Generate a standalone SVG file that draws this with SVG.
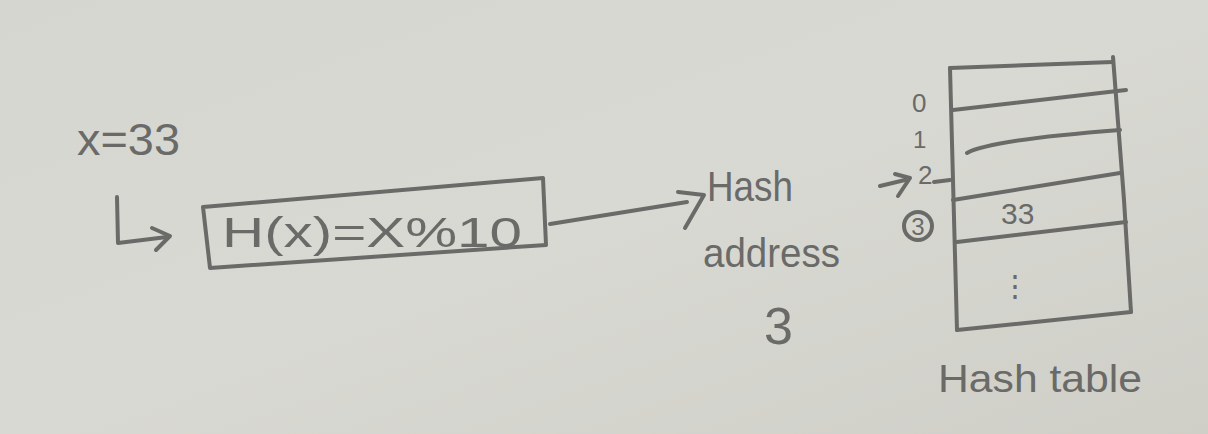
<svg xmlns="http://www.w3.org/2000/svg" width="1208" height="434" viewBox="0 0 1208 434">
<defs>
<linearGradient id="paper" x1="0" y1="0" x2="1" y2="1">
<stop offset="0" stop-color="#d6d6d0"/>
<stop offset="0.5" stop-color="#d9d9d3"/>
<stop offset="1" stop-color="#cfcfc8"/>
</linearGradient>
<style>
.ln{fill:none;stroke:#6a6a68;stroke-width:4;stroke-linecap:round;stroke-linejoin:round}
.tx{font-family:"Liberation Sans",Arial,sans-serif;fill:#6a6a68}
</style>
</defs>
<rect width="1208" height="434" fill="url(#paper)"/>
<g id="input">
<text class="tx" x="77" y="155" font-size="44" textLength="103" lengthAdjust="spacingAndGlyphs">x=33</text>
</g>
<g id="hash-function">
<path class="ln" d="M203,207 L543,178 L546,245 L210,268 Z"/>
<text class="tx" x="222" y="247" font-size="42" textLength="300" lengthAdjust="spacingAndGlyphs">H(x)=X%10</text>
</g>
<g id="hash-address">
<text class="tx" x="707" y="201" font-size="42" textLength="86" lengthAdjust="spacingAndGlyphs">Hash</text>
<text class="tx" x="703" y="267" font-size="40" textLength="137" lengthAdjust="spacingAndGlyphs">address</text>
<text class="tx" x="764" y="344" font-size="52">3</text>
</g>
<g id="hash-table">
<path class="ln" d="M950,68 L1113,62"/>
<path class="ln" d="M1113,57 L1124,200 L1131,312"/>
<path class="ln" d="M950,68 L957,330"/>
<path class="ln" d="M957,330 L1131,312"/>
<path class="ln" d="M953,110 L1126,90"/>
<path class="ln" d="M967,153 Q990,140 1120,130"/>
<path class="ln" d="M953,200 L1120,173"/>
<path class="ln" d="M957,242 L1126,222"/>
<text class="tx" x="1001" y="224" font-size="30">33</text>
<text class="tx" x="1000" y="296" font-size="30">⋮</text>
<text class="tx" x="938" y="392" font-size="38" textLength="204" lengthAdjust="spacingAndGlyphs">Hash table</text>
</g>
<g id="indices">
<text class="tx" x="912" y="112" font-size="26">0</text>
<text class="tx" x="913" y="148" font-size="24">1</text>
<text class="tx" x="918" y="184" font-size="26">2</text>
<circle cx="918" cy="226" r="14" class="ln" stroke-width="3"/>
<text class="tx" x="918" y="235" font-size="24" text-anchor="middle">3</text>
</g>
<g id="connectors">
<path class="ln" d="M117,197 L118,243 L167,237"/>
<path class="ln" d="M152,228 L170,236 L156,250"/>
<path class="ln" d="M550,224 L687,202"/>
<path class="ln" d="M678,192 L704,195 L685,228"/>
<path class="ln" d="M880,186 L905,180"/>
<path class="ln" d="M895,174 L910,178 L898,196"/>
<path class="ln" d="M934,182 L950,180"/>
</g>
</svg>
